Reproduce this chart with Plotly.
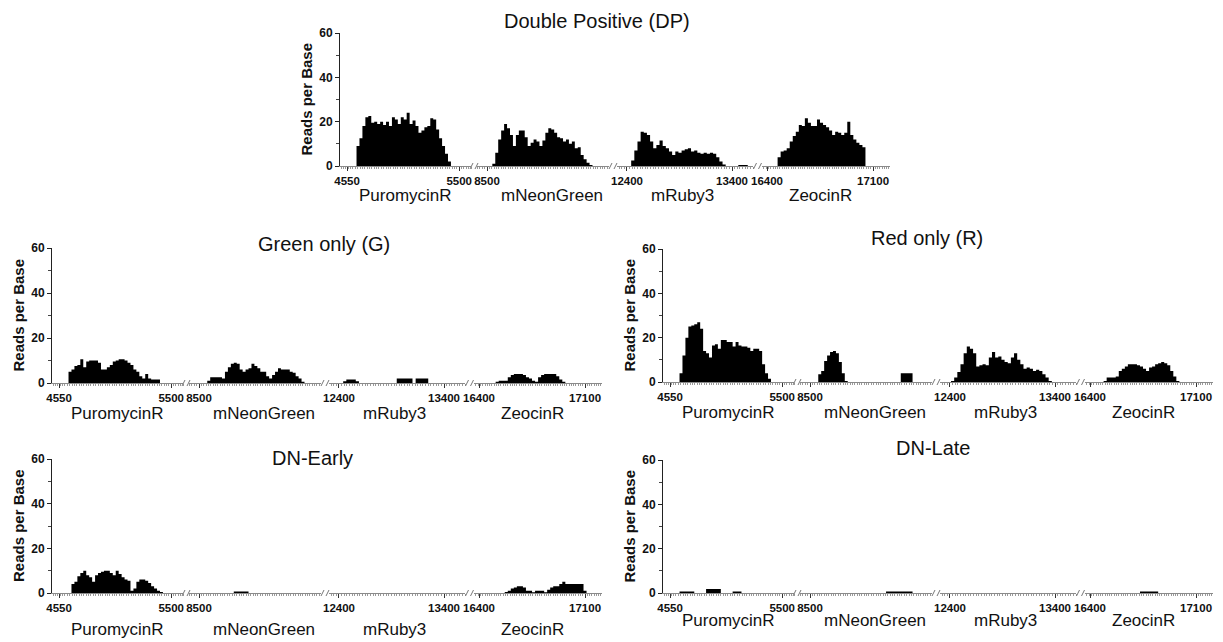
import plotly.graph_objects as go

W, H = 1223, 642
FONT = "Liberation Sans, Arial, sans-serif"

# ---------------- data (genomic position, reads per base) ----------------
PURO_POS = [4580, 4605, 4630, 4655, 4680, 4705, 4730, 4755, 4780, 4805, 4830, 4855,
            4880, 4905, 4930, 4955, 4980, 5005, 5030, 5055, 5080, 5105, 5130, 5155,
            5180, 5205, 5230, 5255, 5280, 5305, 5330, 5355, 5380, 5405, 5430, 5455]
NEON_POS = [8520, 8545, 8570, 8595, 8620, 8645, 8670, 8695, 8720, 8745, 8770, 8795,
            8820, 8845, 8870, 8895, 8920, 8945, 8970, 8995, 9020, 9045, 9070, 9095,
            9120, 9145, 9170, 9195, 9220, 9245, 9270, 9295, 9320, 9345, 9370, 9395, 9420]
RUBY_POS = [12380, 12410, 12440, 12470, 12500, 12530, 12560, 12590, 12620, 12650,
            12680, 12710, 12740, 12770, 12800, 12830, 12860, 12890, 12920, 12950,
            12980, 13010, 13040, 13070, 13100, 13130, 13160, 13190, 13220, 13250,
            13280, 13310, 13340, 13370, 13400, 13430, 13460, 13490, 13520, 13550, 13580]
ZEO_POS = [16430, 16450, 16470, 16490, 16510, 16530, 16550, 16570, 16590, 16610,
           16630, 16650, 16670, 16690, 16710, 16730, 16750, 16770, 16790, 16810,
           16830, 16850, 16870, 16890, 16910, 16930, 16950, 16970, 16990, 17010,
           17030, 17050, 17070, 17090, 17110, 17130, 17150]

DP_PURO = [0, 0, 9, 12.5, 18, 22, 22.5, 19.5, 20, 19, 20, 18.5, 20, 18, 22, 21, 19, 22,
           21, 24, 19, 20.5, 18, 15, 16, 17.5, 18, 21.5, 21, 16.5, 12.5, 9, 5.5, 2, 0, 0]
DP_NEON = [0, 1, 6, 12, 16, 19, 17, 14, 9, 14, 16, 16, 13, 9, 10.5, 12, 11, 9, 11.5, 15,
           17, 16.5, 15, 13, 12.5, 11, 12, 10, 11, 8, 8.5, 5, 3, 1.5, 0.5, 0, 0]
DP_RUBY = [0, 0, 2.5, 7, 11, 15.5, 15, 14, 11, 8, 9.5, 11.5, 9, 8, 6.5, 5, 6.5, 6, 7, 7.5,
           8, 6.5, 7, 6, 5.5, 6, 5.5, 6, 5.5, 4, 2, 0.7, 0, 0, 0, 0, 0.5, 0.5, 0.5, 0, 0]
DP_ZEO = [0, 0, 4, 6.5, 7, 8, 11, 13.5, 15.5, 18.5, 18, 21.5, 19.5, 18, 18, 21, 19.5, 18.5,
          17.5, 16, 14, 15.5, 15, 14, 15, 20, 14, 12, 10.5, 9.5, 8.5, 0, 0, 0, 0, 0, 0]

G_PURO = [0, 0, 5, 6, 7.5, 8, 10.5, 7, 9.5, 10, 10, 10, 9, 6, 6, 7, 8, 9.5, 10, 10.5,
          10.5, 10, 9, 8, 6, 5, 3, 2, 4, 2, 1.5, 1.5, 1.5, 0, 0, 0]
G_NEON = [0, 0, 1, 2.5, 2.5, 2.5, 2.5, 2, 5, 7, 8.5, 9, 8.5, 6, 5, 6, 6.5, 8.5, 7.5, 6.5,
          5, 5, 3, 2, 3.5, 5, 6.5, 6, 6, 6, 5, 4.5, 3, 2, 0.5, 0, 0]
G_RUBY = [0, 0, 0.8, 1.5, 1.5, 1.5, 0.8, 0, 0, 0, 0, 0, 0, 0, 0, 0, 0, 0, 0, 2,
          2, 2, 2, 2, 0, 2, 2, 2, 2, 0, 0, 0, 0, 0, 0, 0, 0, 0, 0, 0, 0]
G_ZEO = [0, 0, 0, 0, 0.5, 1, 1, 1, 2.5, 3.5, 4, 4, 4, 3.5, 2.5, 2, 1, 0.5, 2.5, 3.5,
         4, 4, 4, 4, 3, 1.5, 0.5, 0, 0, 0, 0, 0, 0, 0, 0, 0, 0]

R_PURO = [0, 0, 4, 12, 20, 25, 25.5, 26, 27, 24, 14, 13, 11, 16.5, 17, 15, 19, 19, 18, 18,
          16, 18, 16.5, 16, 16, 15.5, 14, 15, 15, 14, 8, 4, 1.5, 0, 0, 0]
R_NEON = [0, 0, 3.5, 5, 9.5, 12, 13.5, 14, 13, 9, 4, 0.5, 0, 0, 0, 0, 0, 0, 0, 0,
          0, 0, 0, 0, 0, 0, 0, 0, 0, 0, 4, 4, 4, 4, 0, 0, 0]
R_RUBY = [0, 0.5, 2, 4.5, 8, 13, 16, 15, 13, 7, 7.5, 8, 7.5, 11, 13.5, 11, 11.5, 10, 9, 8.5,
          11, 13, 10, 8, 6, 6.5, 6, 5, 5.5, 5, 3.5, 2, 0.5, 0, 0, 0, 0, 0, 0, 0, 0]
R_ZEO = [0, 0, 0, 0.5, 2, 2, 2, 2.5, 5, 6, 7, 8, 8, 8, 7.5, 7, 6, 5, 6.5, 7,
         8, 8.5, 9, 8.5, 7.5, 5, 2.5, 0.5, 0, 0, 0, 0, 0, 0, 0, 0, 0]

E_PURO = [0, 0, 0, 4, 5, 7.5, 9, 10, 8, 7, 5, 8, 9, 9.5, 10, 10, 9, 8, 10, 8.5,
          7, 6, 5.5, 1, 2, 5, 6, 6, 5.5, 4.5, 3, 2, 1, 0.5, 0, 0]
E_NEON = [0, 0, 0, 0, 0, 0, 0, 0, 0, 0, 0, 0.7, 0.7, 0.7, 0.7, 0.7, 0, 0, 0, 0,
          0, 0, 0, 0, 0, 0, 0, 0, 0, 0, 0, 0, 0, 0, 0, 0, 0]
E_RUBY = [0] * 41
E_ZEO = [0, 0, 0, 0, 0, 0, 0, 0.5, 1, 2, 2.5, 3, 3, 2.5, 1, 1, 0.3, 1, 1, 1,
         0.3, 1.5, 2.5, 3, 3, 4, 5, 4, 4, 4, 4, 4, 4, 1, 0, 0, 0]

L_PURO = [0, 0, 0.7, 0.7, 0.7, 0.7, 0.7, 0, 0, 0, 0, 1.8, 1.8, 1.8, 1.8, 1.8, 0, 0, 0, 0,
          0.7, 0.7, 0.7, 0, 0, 0, 0, 0, 0, 0, 0, 0, 0, 0, 0, 0]
L_NEON = [0, 0, 0, 0, 0, 0, 0, 0, 0, 0, 0, 0, 0, 0, 0, 0, 0, 0, 0, 0,
          0, 0, 0, 0, 0, 0.7, 0.7, 0.7, 0.7, 0.7, 0.7, 0.7, 0.7, 0.7, 0, 0, 0]
L_RUBY = [0] * 41
L_ZEO = [0, 0, 0, 0, 0, 0, 0, 0, 0, 0, 0, 0, 0, 0, 0, 0.7, 0.7, 0.7, 0.7, 0.7,
         0.7, 0, 0, 0, 0, 0, 0, 0, 0, 0, 0, 0, 0, 0, 0, 0, 0]

GENES = ["PuromycinR", "mNeonGreen", "mRuby3", "ZeocinR"]
POSITIONS = [PURO_POS, NEON_POS, RUBY_POS, ZEO_POS]
SEG_RANGES = [(4490, 5600), (8415, 9535), (12305, 13600), (16367, 17212)]
SEG_TICKS = [[4550, 5500], [8500], [12400, 13400], [16400, 17100]]
Y_TICKS = [0, 20, 40, 60]

# ---------------- layout (page pixels) ----------------
SEG_PX = [(0, 131), (137, 269), (277, 413), (422, 550)]
MINOR_DT = [20, 20, 25, 15]
GENE_OFF = [65, 212, 342, 480]
BREAKS = [134, 273, 417.5]

PANELS = [
    dict(title="Double Positive (DP)", data=[DP_PURO, DP_NEON, DP_RUBY, DP_ZEO],
         x0=340, ybot=166, ytop=33, tx=597, ty=21, gy=195),
    dict(title="Green only (G)", data=[G_PURO, G_NEON, G_RUBY, G_ZEO],
         x0=52, ybot=383, ytop=248, tx=324, ty=244, gy=413),
    dict(title="Red only (R)", data=[R_PURO, R_NEON, R_RUBY, R_ZEO],
         x0=663, ybot=382, ytop=249, tx=927, ty=238, gy=412),
    dict(title="DN-Early", data=[E_PURO, E_NEON, E_RUBY, E_ZEO],
         x0=52, ybot=593, ytop=459, tx=312, ty=458, gy=629),
    dict(title="DN-Late", data=[L_PURO, L_NEON, L_RUBY, L_ZEO],
         x0=663, ybot=593, ytop=460, tx=933, ty=448, gy=620),
]


def px(x):
    return x / W


def py(y):
    return 1 - y / H


fig = go.Figure()
layout = {}
shapes = []
annotations = []
ax = 0
for pi, p in enumerate(PANELS):
    yname = "y" if pi == 0 else f"y{pi + 1}"
    ykey = "yaxis" if pi == 0 else f"yaxis{pi + 1}"
    first_x = None
    for s in range(4):
        ax += 1
        xname = "x" if ax == 1 else f"x{ax}"
        xkey = "xaxis" if ax == 1 else f"xaxis{ax}"
        if s == 0:
            first_x = xname
        a, b = SEG_PX[s]
        layout[xkey] = dict(
            domain=[px(p["x0"] + a), px(p["x0"] + b)],
            range=list(SEG_RANGES[s]), anchor=yname, automargin=False,
            showgrid=False, zeroline=False, showline=True,
            linecolor="#8a8a8a", linewidth=1,
            tickmode="array", tickvals=SEG_TICKS[s],
            ticktext=[f"<b>{t}</b>" for t in SEG_TICKS[s]],
            ticks="outside", ticklen=4, tickcolor="#333", tickwidth=1,
            tickfont=dict(family=FONT, size=11.5, color="#111"),
            minor=dict(tickmode="linear", tick0=0, dtick=MINOR_DT[s], ticks="outside",
                       ticklen=2, tickcolor="#9a9a9a", tickwidth=1),
            fixedrange=True,
        )
        fig.add_trace(go.Scatter(
            x=POSITIONS[s], y=p["data"][s], xaxis=xname, yaxis=yname,
            mode="lines", fill="tozeroy", fillcolor="black",
            line=dict(color="black", width=0, shape="hv"),
            hoverinfo="skip", showlegend=False))
        annotations.append(dict(
            text=GENES[s], xref="paper", yref="paper",
            x=px(p["x0"] + GENE_OFF[s]), y=py(p["gy"]),
            xanchor="center", yanchor="middle", showarrow=False,
            font=dict(family=FONT, size=17, color="#111")))
    layout[ykey] = dict(
        domain=[py(p["ybot"]), py(p["ytop"])], range=[0, 60],
        anchor=first_x, automargin=False, showgrid=False, zeroline=False, showline=True,
        linecolor="#222", linewidth=1,
        tickmode="array", tickvals=Y_TICKS, ticktext=[f"<b>{t}</b>" for t in Y_TICKS],
        ticks="outside", ticklen=4, tickcolor="#222", tickwidth=1,
        tickfont=dict(family=FONT, size=12, color="#111"),
        minor=dict(tickmode="linear", tick0=0, dtick=10, ticks="outside",
                   ticklen=3, tickcolor="#444", tickwidth=1),
        fixedrange=True,
    )
    annotations.append(dict(
        text=p["title"], xref="paper", yref="paper", x=px(p["tx"]), y=py(p["ty"]),
        xanchor="center", yanchor="middle", showarrow=False,
        font=dict(family=FONT, size=20, color="#111")))
    annotations.append(dict(
        text="<b>Reads per Base</b>", xref="paper", yref="paper",
        x=px(p["x0"] - 34), y=py((p["ybot"] + p["ytop"]) / 2),
        xanchor="center", yanchor="middle", textangle=-90, showarrow=False,
        font=dict(family=FONT, size=15, color="#111")))
    for c in BREAKS:
        for d in (-2.5, 2.5):
            cx = p["x0"] + c + d
            shapes.append(dict(
                type="line", xref="paper", yref="paper",
                x0=px(cx - 1.5), x1=px(cx + 1.5),
                y0=py(p["ybot"] + 3), y1=py(p["ybot"] - 3),
                line=dict(color="#777", width=1)))

fig.update_layout(
    template="none",
    width=W, height=H, autosize=False,
    margin=dict(l=0, r=0, t=0, b=0, pad=0),
    paper_bgcolor="white", plot_bgcolor="white",
    showlegend=False, shapes=shapes, annotations=annotations,
    **layout,
)

fig.write_html("out.html", config={"displayModeBar": False},
               post_script="document.body.style.margin='0';document.body.style.overflow='hidden';")
